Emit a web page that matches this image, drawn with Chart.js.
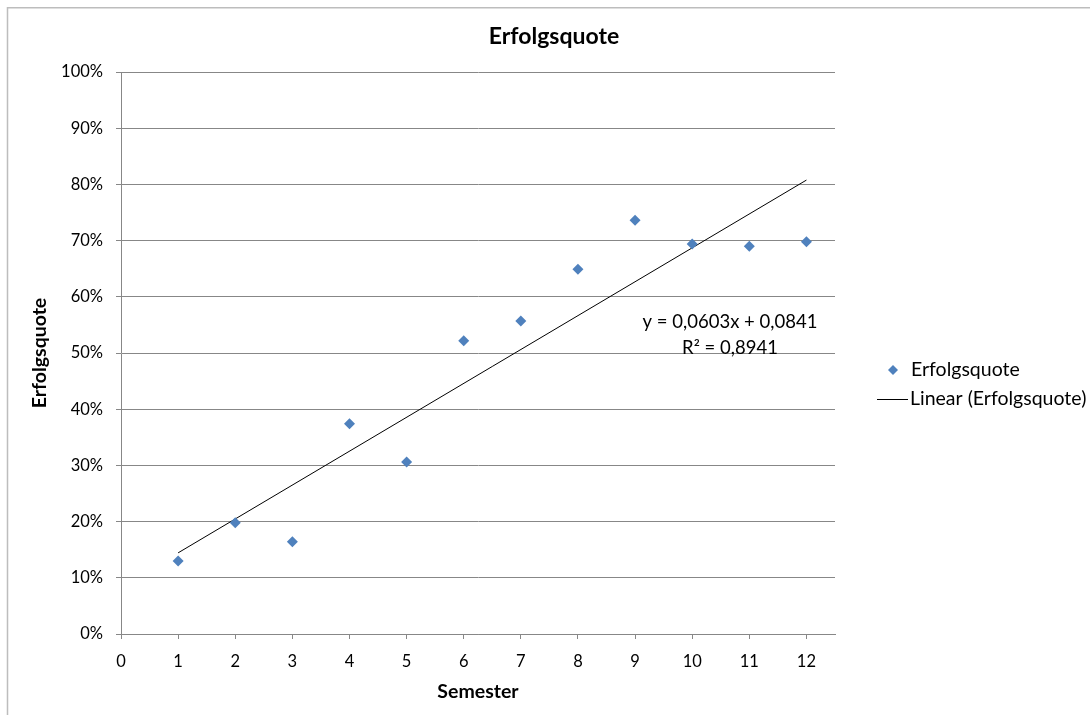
<!DOCTYPE html>
<html>
<head>
<meta charset="utf-8">
<script src="https://cdn.jsdelivr.net/npm/chart.js@4/dist/chart.umd.min.js"></script>
<style>
  html, body { margin: 0; padding: 0; background: #ffffff; }
  #wrap { position: relative; width: 1090px; height: 715px; }
  canvas { display: block; }
</style>
</head>
<body>
<div id="wrap"><canvas id="c" width="1090" height="715"></canvas></div>
<script>
// ---- data ----
const semesters = [1, 2, 3, 4, 5, 6, 7, 8, 9, 10, 11, 12];
const quote = [0.130, 0.198, 0.164, 0.374, 0.306, 0.522, 0.557, 0.649, 0.736, 0.694, 0.690, 0.698];
const trendX = [1, 12];
const trendY = [0.1444, 0.8077];
const xTicks = [0, 1, 2, 3, 4, 5, 6, 7, 8, 9, 10, 11, 12];
const yTicks = [0, 0.1, 0.2, 0.3, 0.4, 0.5, 0.6, 0.7, 0.8, 0.9, 1.0];
const chartTitle = 'Erfolgsquote';
const xTitle = 'Semester';
const yTitle = 'Erfolgsquote';
const seriesName = 'Erfolgsquote';
const trendName = 'Linear (Erfolgsquote)';
const equationLines = ['y = 0,0603x + 0,0841', 'R² = 0,8941'];

const FONT = 'Lato, "Open Sans", sans-serif';
const BLUE = '#4F81BD';
const GRID = '#878787';

const scatterPts = semesters.map((s, i) => ({ x: s, y: quote[i] }));
const trendPts = trendX.map((s, i) => ({ x: s, y: trendY[i] }));

const overlay = {
  id: 'overlay',
  beforeDraw(chart) {
    const ctx = chart.ctx;
    ctx.save();
    ctx.fillStyle = '#ffffff';
    ctx.fillRect(0, 0, chart.width, chart.height);
    ctx.strokeStyle = '#BDBDBD';
    ctx.lineWidth = 1.5;
    ctx.beginPath();
    ctx.moveTo(7.5, 730);
    ctx.lineTo(7.5, 7.75);
    ctx.lineTo(1100, 7.75);
    ctx.stroke();
    // chart title
    ctx.fillStyle = '#000000';
    ctx.font = 'bold 23px ' + FONT;
    ctx.textAlign = 'center';
    ctx.textBaseline = 'middle';
    ctx.fillText(chartTitle, 554, 37);
    ctx.restore();
  },
  afterDraw(chart) {
    const ctx = chart.ctx;
    ctx.save();
    // trendline equation
    ctx.fillStyle = '#000000';
    ctx.font = '18.5px ' + FONT;
    ctx.textAlign = 'center';
    ctx.textBaseline = 'middle';
    ctx.fillText(equationLines[0], 730, 322);
    ctx.fillText(equationLines[1], 730, 348);
    // legend
    ctx.font = '19.5px ' + FONT;
    ctx.textAlign = 'left';
    ctx.fillStyle = BLUE;
    const dx = 893, dy = 370, r = 5;
    ctx.beginPath();
    ctx.moveTo(dx, dy - r); ctx.lineTo(dx + r, dy); ctx.lineTo(dx, dy + r); ctx.lineTo(dx - r, dy);
    ctx.closePath(); ctx.fill();
    ctx.fillStyle = '#000000';
    ctx.fillText(seriesName, 911, 370);
    ctx.strokeStyle = '#000000';
    ctx.lineWidth = 1;
    ctx.beginPath();
    ctx.moveTo(877, 399.5); ctx.lineTo(908, 399.5);
    ctx.stroke();
    ctx.fillText(trendName, 910, 399);
    ctx.restore();
  }
};

new Chart(document.getElementById('c'), {
  type: 'scatter',
  data: {
    datasets: [
      {
        label: seriesName,
        data: scatterPts,
        pointStyle: 'rectRot',
        pointRadius: 5.5,
        pointHoverRadius: 5.5,
        backgroundColor: BLUE,
        borderColor: BLUE,
        borderWidth: 0,
        showLine: false,
        order: 1
      },
      {
        label: trendName,
        data: trendPts,
        showLine: true,
        borderColor: '#000000',
        borderWidth: 1,
        pointRadius: 0,
        pointHoverRadius: 0,
        fill: false,
        order: 2
      }
    ]
  },
  plugins: [overlay],
  options: {
    responsive: false,
    animation: false,
    events: [],
    layout: { padding: { left: 10, right: 255, top: 72, bottom: 0 } },
    plugins: {
      legend: { display: false },
      tooltip: { enabled: false },
      title: { display: false }
    },
    scales: {
      x: {
        type: 'linear',
        min: 0,
        max: 12.5,
        afterFit(s) { s.height = 81; },
        afterBuildTicks(s) { s.ticks = xTicks.map(v => ({ value: v })); },
        ticks: {
          includeBounds: false,
          color: '#000000',
          padding: 13,
          font: { family: FONT, size: 16.5 },
          maxRotation: 0,
          autoSkip: false
        },
        grid: { drawOnChartArea: false, drawTicks: true, tickLength: 5, tickColor: GRID },
        border: { color: GRID, width: 1 },
        title: {
          display: true,
          text: xTitle,
          color: '#000000',
          font: { family: FONT, size: 19.5, weight: 'bold', lineHeight: 1.2 },
          padding: { top: 0, bottom: 11.3 }
        }
      },
      y: {
        type: 'linear',
        min: 0,
        max: 1,
        afterFit(s) { s.width = 111; },
        afterBuildTicks(s) { s.ticks = yTicks.map(v => ({ value: v })); },
        ticks: {
          color: '#000000',
          padding: 13,
          font: { family: FONT, size: 16.5 },
          autoSkip: false,
          callback: v => Math.round(v * 100) + '%'
        },
        grid: { color: GRID, drawTicks: true, tickLength: 5, tickColor: GRID },
        border: { color: GRID, width: 1 },
        title: {
          display: true,
          text: yTitle,
          color: '#000000',
          font: { family: FONT, size: 19.5, weight: 'bold', lineHeight: 1.2 },
          padding: { top: 18.3, bottom: 0 }
        }
      }
    }
  }
});
</script>
</body>
</html>
